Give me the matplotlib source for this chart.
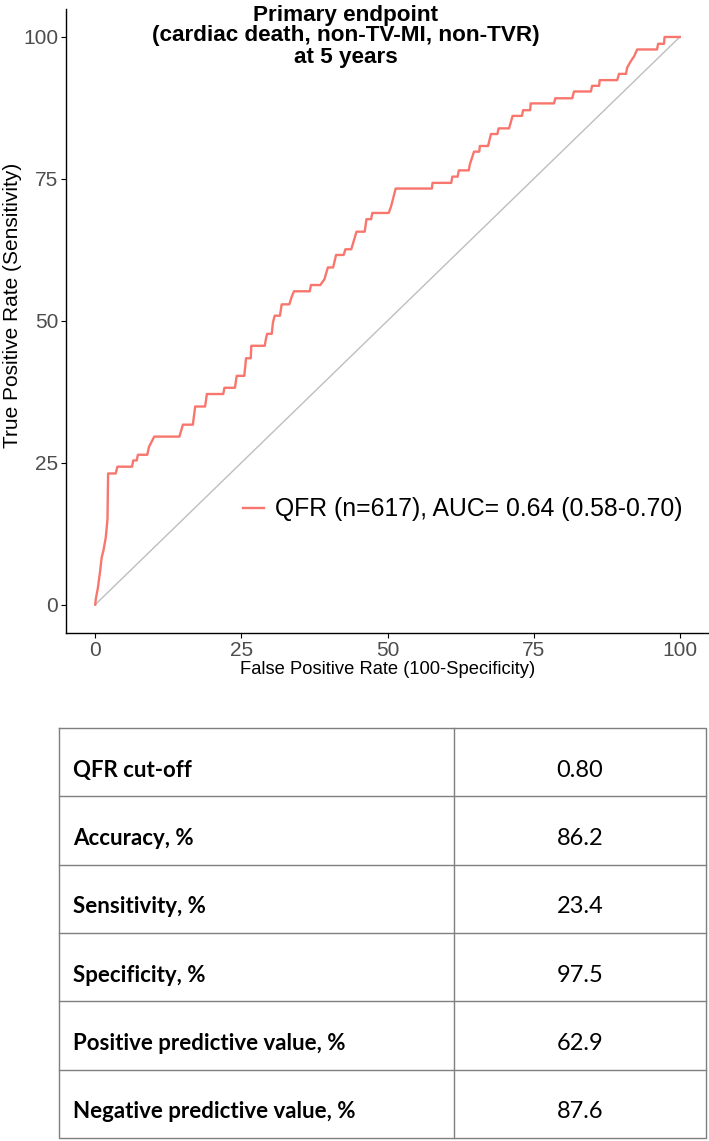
import numpy as np
import matplotlib
matplotlib.use("Agg")
import matplotlib.pyplot as plt

# ROC curve points (false positive rate, true positive rate), in %
fpr = [0, 0.1, 0.46, 0.85, 1.1, 1.4, 1.8, 2.1, 2.2, 3.5, 3.8, 6.3, 6.5, 7.1, 7.3, 8.9,
       9.2, 9.6, 10.1, 14.4, 15.0, 16.7, 17.1, 18.8, 19.1, 21.9, 22.1, 23.9, 24.2, 25.5,
       25.8, 26.6, 26.7, 29.0, 29.2, 29.4, 30.2, 30.4, 30.7, 31.6, 31.9, 33.2, 33.6, 34.0,
       36.7, 36.9, 38.5, 39.2, 39.8, 40.7, 41.2, 42.5, 42.8, 43.8, 44.7, 46.1, 46.4, 47.2,
       47.4, 50.2, 50.6, 51.4, 57.6, 57.7, 60.9, 61.1, 62.0, 62.2, 63.9, 64.1, 64.8, 65.7,
       65.8, 67.2, 67.7, 68.8, 69.0, 70.8, 71.4, 73.0, 73.2, 74.4, 74.5, 78.5, 78.7, 81.6,
       81.9, 84.8, 85.0, 86.2, 86.3, 89.3, 89.6, 90.8, 91.0, 91.6, 92.2, 92.7, 96.1, 96.3,
       97.3, 97.4, 100]
tpr = [0, 1.0, 3.0, 6.0, 8.3, 9.5, 11.8, 15.1, 23.1, 23.1, 24.3, 24.3, 25.4, 25.4, 26.4, 26.4,
       27.8, 28.6, 29.6, 29.6, 31.7, 31.7, 34.9, 34.9, 37.1, 37.1, 38.2, 38.2, 40.3, 40.3,
       43.4, 43.4, 45.6, 45.6, 46.8, 47.7, 47.7, 49.7, 50.9, 50.9, 52.9, 52.9, 54.2, 55.2,
       55.2, 56.3, 56.3, 57.3, 59.4, 59.4, 61.6, 61.6, 62.6, 62.6, 65.7, 65.7, 67.9, 67.9,
       69.0, 69.0, 70.1, 73.3, 73.3, 74.3, 74.3, 75.4, 75.4, 76.5, 76.5, 77.6, 79.8, 79.8,
       80.8, 80.8, 82.9, 82.9, 83.9, 83.9, 86.1, 86.1, 87.1, 87.1, 88.3, 88.3, 89.2, 89.2,
       90.4, 90.4, 91.4, 91.4, 92.4, 92.4, 93.5, 93.5, 94.6, 95.7, 96.6, 97.8, 97.8, 98.8,
       98.8, 100, 100]

ticks = [0, 25, 50, 75, 100]
legend_label = "QFR (n=617), AUC= 0.64 (0.58-0.70)"
title_text = "Primary endpoint\n(cardiac death, non-TV-MI, non-TVR)\nat 5 years"

row_labels = ["QFR cut-off", "Accuracy, %", "Sensitivity, %", "Specificity, %",
              "Positive predictive value, %", "Negative predictive value, %"]
row_values = ["0.80", "86.2", "23.4", "97.5", "62.9", "87.6"]


def main():
    W, H = 709, 1141
    plt.rcParams['font.family'] = ['Liberation Sans', 'DejaVu Sans']
    fig = plt.figure(figsize=(W / 100, H / 100), dpi=100)

    # plot area in pixels (left, top, right, bottom)
    l, t, r, b = 66, 8.6, 709, 633
    ax = fig.add_axes([l / W, 1 - b / H, (r - l) / W, (b - t) / H])
    ax.plot([0, 100], [0, 100], color='#BEBEBE', lw=1.0)
    ax.plot(fpr, tpr, color='#F8766D', lw=1.7, label=legend_label)
    ax.set_xlim(-5, 105)
    ax.set_ylim(-5, 105)
    ax.set_xticks(ticks)
    ax.set_yticks(ticks)
    for s in ['top', 'right']:
        ax.spines[s].set_visible(False)
    for s in ['left', 'bottom']:
        ax.spines[s].set_linewidth(1.0)
    ax.tick_params(length=3.5, width=0.8, labelsize=15, labelcolor='#4D4D4D', pad=2)
    ax.set_xlabel("False Positive Rate (100-Specificity)", fontsize=13.2, labelpad=1)
    ax.set_ylabel("True Positive Rate (Sensitivity)", fontsize=15)
    ax.yaxis.set_label_coords((22 - l) / (r - l), (b - 305) / (b - t))

    ax.legend(loc='center left', bbox_to_anchor=(0.241, 0.198), frameon=False,
              fontsize=17.8, handlelength=0.85, handletextpad=0.45)

    fig.text(346 / W, 1 - 36 / H, title_text, ha='center', va='center',
             fontsize=16.2, fontweight='bold', linespacing=1.0)

    # table under the plot
    tl, tr_, tt, tb = 59, 706, 728, 1138
    tmid = 454
    n = len(row_labels)
    rh = (tb - tt) / n
    tax = fig.add_axes([0, 0, 1, 1])
    tax.set_xlim(0, W)
    tax.set_ylim(H, 0)
    tax.axis('off')
    grid = '#7F7F7F'
    tax.plot([tl, tr_, tr_, tl, tl], [tt, tt, tb, tb, tt], color=grid, lw=1.0)
    tax.plot([tmid, tmid], [tt, tb], color=grid, lw=1.0)
    for i in range(1, n):
        y = tt + i * rh
        tax.plot([tl, tr_], [y, y], color=grid, lw=1.0)
    for i in range(n):
        yc = tt + (i + 0.5) * rh + 8
        tax.text(73, yc, row_labels[i], ha='left', va='center', fontsize=16,
                 fontweight='bold', family=['Lato', 'DejaVu Sans'])
        tax.text((tmid + tr_) / 2, yc, row_values[i], ha='center', va='center',
                 fontsize=17, family=['Lato', 'DejaVu Sans'])

    fig.savefig('out.png', dpi=100)


if __name__ == "__main__":
    main()
